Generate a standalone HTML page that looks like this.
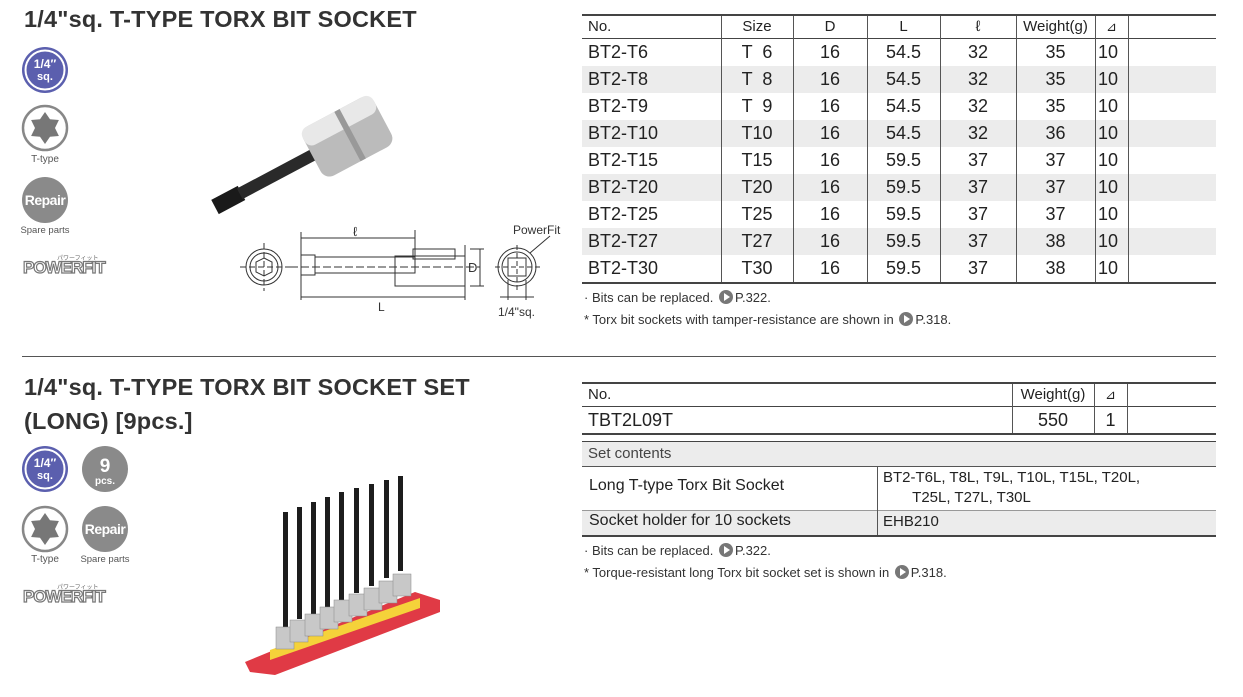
<!DOCTYPE html>
<html><head><meta charset="utf-8"><style>
body{margin:0;width:1243px;height:697px;background:#fff;position:relative;overflow:hidden;font-family:"Liberation Sans",sans-serif;color:#222}
.a{position:absolute;white-space:nowrap}
.t{font-size:23.5px;font-weight:bold;color:#333;letter-spacing:0.2px}
.c{position:absolute;text-align:center;font-size:18px;line-height:27px}
.h{position:absolute;text-align:center;font-size:15px;line-height:24px}
.note{font-size:13px;color:#333}
.arr{display:inline-block;width:14px;height:14px;border-radius:7px;background:#777;vertical-align:-2px;position:relative;margin:0 2px}
.arr:after{content:"";position:absolute;left:5px;top:3px;border-left:6px solid #fff;border-top:4px solid transparent;border-bottom:4px solid transparent}
</style></head><body>
<div class="a t" style="left:24px;top:6px">1/4"sq. T-TYPE TORX BIT SOCKET</div>
<div class="a t" style="left:24px;top:374px">1/4"sq. T-TYPE TORX BIT SOCKET SET</div>
<div class="a t" style="left:24px;top:408px">(LONG) [9pcs.]</div>
<div class="a" style="left:22px;top:356px;width:1194px;height:1px;background:#555"></div>

<svg class="a" style="left:0;top:0" width="580" height="697">
<defs>
<g id="sq"><circle r="23" fill="#5b5fae"/><circle r="19.5" fill="none" stroke="#fff" stroke-width="2"/><text x="0" y="-2" font-size="12" font-weight="bold" fill="#fff" text-anchor="middle" font-family="Liberation Sans">1/4″</text><text x="0" y="10" font-size="11" font-weight="bold" fill="#fff" text-anchor="middle" font-family="Liberation Sans">sq.</text></g>
<g id="tt"><circle r="22" fill="#fff" stroke="#888" stroke-width="2.5"/><polygon points="0,-16 5,-8.7 13.9,-8 10,0 13.9,8 5,8.7 0,16 -5,8.7 -13.9,8 -10,0 -13.9,-8 -5,-8.7" fill="#777"/></g>
<g id="rp"><circle r="23" fill="#8a8a8a"/><text x="0" y="5" font-size="14" font-weight="bold" fill="#fff" text-anchor="middle" font-family="Liberation Sans" letter-spacing="-0.5">Repair</text></g>
<g id="pf"><text x="0" y="0" font-size="17" font-weight="bold" fill="#fff" stroke="#777" stroke-width="1.2" font-family="Liberation Sans" letter-spacing="-1">POWERFIT</text><text x="34" y="-13" font-size="6" fill="#666" font-family="Liberation Sans">パワーフィット</text></g>
</defs>
<use href="#sq" x="45" y="70"/>
<use href="#tt" x="45" y="128"/>
<text x="45" y="162" font-size="10" fill="#555" text-anchor="middle">T-type</text>
<use href="#rp" x="45" y="200"/>
<text x="45" y="233" font-size="9.5" fill="#555" text-anchor="middle">Spare parts</text>
<use href="#pf" x="23" y="273"/>

<use href="#sq" x="45" y="469"/>
<circle cx="105" cy="469" r="23" fill="#8a8a8a"/><text x="105" y="472" font-size="19" font-weight="bold" fill="#fff" text-anchor="middle">9</text><text x="105" y="484" font-size="10" font-weight="bold" fill="#fff" text-anchor="middle">pcs.</text>
<use href="#tt" x="45" y="529"/>
<text x="45" y="562" font-size="10" fill="#555" text-anchor="middle">T-type</text>
<use href="#rp" x="105" y="529"/>
<text x="105" y="562" font-size="9.5" fill="#555" text-anchor="middle">Spare parts</text>
<use href="#pf" x="23" y="602"/>

<!-- socket photo -->
<g transform="translate(215,207) rotate(-28)">
<rect x="0" y="-8" width="30" height="16" fill="#1a1a1a"/>
<rect x="28" y="-6" width="90" height="12" fill="#2a2a2a"/>
<rect x="110" y="-28" width="80" height="56" rx="10" fill="#bbb"/>
<rect x="110" y="-28" width="80" height="20" rx="8" fill="#e8e8e8"/>
<rect x="150" y="-28" width="6" height="56" fill="#999"/>
</g>

<!-- drawing -->
<g stroke="#333" fill="none" stroke-width="1">
<circle cx="264" cy="267" r="18"/><circle cx="264" cy="267" r="14"/><polygon points="264,258 272,262 272,272 264,276 256,272 256,262"/>
<line x1="240" y1="267" x2="290" y2="267" stroke-dasharray="6,3"/><line x1="264" y1="243" x2="264" y2="291" stroke-dasharray="6,3"/>
<line x1="290" y1="267" x2="480" y2="267" stroke-dasharray="8,3"/>
<rect x="301" y="255" width="14" height="20"/><rect x="315" y="257" width="100" height="16"/>
<rect x="413" y="249" width="42" height="10"/><rect x="395" y="256" width="70" height="30"/>
<line x1="301" y1="232" x2="301" y2="300"/><line x1="415" y1="230" x2="415" y2="258"/><line x1="465" y1="245" x2="465" y2="300"/>
<line x1="301" y1="238" x2="415" y2="238"/><line x1="301" y1="297" x2="465" y2="297"/>
<line x1="470" y1="249" x2="484" y2="249"/><line x1="470" y1="286" x2="484" y2="286"/><line x1="480" y1="249" x2="480" y2="286"/>
<circle cx="517" cy="267" r="19"/><circle cx="517" cy="267" r="15"/><rect x="508" y="258" width="18" height="18"/>
<line x1="495" y1="267" x2="540" y2="267" stroke-dasharray="5,3"/><line x1="517" y1="245" x2="517" y2="290" stroke-dasharray="5,3"/>
<line x1="508" y1="280" x2="508" y2="300"/><line x1="526" y1="280" x2="526" y2="300"/><line x1="500" y1="297" x2="534" y2="297"/>
<line x1="530" y1="253" x2="550" y2="236"/>
</g>
<text x="353" y="236" font-size="13" fill="#333">ℓ</text>
<text x="378" y="311" font-size="12" fill="#333">L</text>
<text x="468" y="272" font-size="13" fill="#333" font-family="Liberation Sans">D</text>
<text x="498" y="316" font-size="12" fill="#333">1/4"sq.</text>
<text x="513" y="234" font-size="12" fill="#333">PowerFit</text>

<!-- set photo -->
<polygon points="245,662 250,672 275,675 440,612 440,600 415,592" fill="#e03a45"/>
<polygon points="270,650 270,660 420,608 420,598" fill="#f5d23a"/>
<g fill="#1d1d1d">
<rect x="283" y="512" width="5" height="115"/><rect x="297" y="507" width="5" height="112"/><rect x="311" y="502" width="5" height="112"/><rect x="325" y="497" width="5" height="110"/><rect x="339" y="492" width="5" height="108"/><rect x="354" y="488" width="5" height="105"/><rect x="369" y="484" width="5" height="102"/><rect x="384" y="480" width="5" height="98"/><rect x="398" y="476" width="5" height="95"/>
</g>
<g fill="#c8c8c8" stroke="#888" stroke-width="0.5">
<rect x="276" y="627" width="18" height="22"/><rect x="290" y="620" width="18" height="22"/><rect x="305" y="614" width="18" height="22"/><rect x="320" y="607" width="18" height="22"/><rect x="334" y="600" width="18" height="22"/><rect x="349" y="594" width="18" height="22"/><rect x="364" y="588" width="18" height="22"/><rect x="379" y="581" width="18" height="22"/><rect x="393" y="574" width="18" height="22"/>
</g>
</svg>

<!-- Table 1 -->
<div class="a" style="left:582px;top:14px;width:634px;height:270px">
<div class="a" style="left:0;top:0;width:634px;height:2px;background:#444"></div>
<div class="a" style="left:0;top:24px;width:634px;height:1px;background:#444"></div>
<div class="a" style="left:0;top:52px;width:634px;height:27px;background:#ececec"></div>
<div class="a" style="left:0;top:106px;width:634px;height:27px;background:#ececec"></div>
<div class="a" style="left:0;top:160px;width:634px;height:27px;background:#ececec"></div>
<div class="a" style="left:0;top:214px;width:634px;height:27px;background:#ececec"></div>
<div class="a" style="left:0;top:268px;width:634px;height:1.5px;background:#444"></div>
<div class="a" style="left:139px;top:2px;width:1px;height:266px;background:#555"></div>
<div class="a" style="left:211px;top:2px;width:1px;height:266px;background:#555"></div>
<div class="a" style="left:285px;top:2px;width:1px;height:266px;background:#555"></div>
<div class="a" style="left:358px;top:2px;width:1px;height:266px;background:#555"></div>
<div class="a" style="left:434px;top:2px;width:1px;height:266px;background:#555"></div>
<div class="a" style="left:513px;top:2px;width:1px;height:266px;background:#555"></div>
<div class="a" style="left:546px;top:2px;width:1px;height:266px;background:#555"></div>
<div class="h" style="left:6px;top:1px;text-align:left">No.</div>
<div class="h" style="left:139px;top:1px;width:72px">Size</div>
<div class="h" style="left:211px;top:1px;width:74px">D</div>
<div class="h" style="left:285px;top:1px;width:73px">L</div>
<div class="h" style="left:358px;top:1px;width:76px">ℓ</div>
<div class="h" style="left:434px;top:1px;width:79px">Weight(g)</div>
<div class="h" style="left:513px;top:1px;width:33px;font-size:13px">⊿</div>
</div>
<div class="a" style="left:582px;top:39px">
<div class="c" style="left:6px;top:0;text-align:left">BT2-T6<br>BT2-T8<br>BT2-T9<br>BT2-T10<br>BT2-T15<br>BT2-T20<br>BT2-T25<br>BT2-T27<br>BT2-T30</div>
<div class="c" style="left:139px;top:0;width:72px;white-space:pre">T  6
T  8
T  9
T10
T15
T20
T25
T27
T30</div>
<div class="c" style="left:211px;top:0;width:74px">16<br>16<br>16<br>16<br>16<br>16<br>16<br>16<br>16</div>
<div class="c" style="left:285px;top:0;width:73px">54.5<br>54.5<br>54.5<br>54.5<br>59.5<br>59.5<br>59.5<br>59.5<br>59.5</div>
<div class="c" style="left:358px;top:0;width:76px">32<br>32<br>32<br>32<br>37<br>37<br>37<br>37<br>37</div>
<div class="c" style="left:434px;top:0;width:79px">35<br>35<br>35<br>36<br>37<br>37<br>37<br>38<br>38</div>
<div class="c" style="left:516px;top:0;text-align:left">10<br>10<br>10<br>10<br>10<br>10<br>10<br>10<br>10</div>
</div>
<div class="a note" style="left:584px;top:290px">· Bits can be replaced. <span class="arr"></span>P.322.</div>
<div class="a note" style="left:584px;top:312px">* Torx bit sockets with tamper-resistance are shown in <span class="arr"></span>P.318.</div>

<!-- Table 2 -->
<div class="a" style="left:582px;top:382px;width:634px;height:160px">
<div class="a" style="left:0;top:0;width:634px;height:2px;background:#444"></div>
<div class="a" style="left:0;top:24px;width:634px;height:1px;background:#444"></div>
<div class="a" style="left:0;top:51px;width:634px;height:1.5px;background:#444"></div>
<div class="a" style="left:430px;top:2px;width:1px;height:49px;background:#555"></div>
<div class="a" style="left:512px;top:2px;width:1px;height:49px;background:#555"></div>
<div class="a" style="left:545px;top:2px;width:1px;height:49px;background:#555"></div>
<div class="h" style="left:6px;top:1px">No.</div>
<div class="h" style="left:430px;top:1px;width:82px">Weight(g)</div>
<div class="h" style="left:512px;top:1px;width:33px;font-size:13px">⊿</div>
<div class="c" style="left:6px;top:25px">TBT2L09T</div>
<div class="c" style="left:430px;top:25px;width:82px">550</div>
<div class="c" style="left:512px;top:25px;width:33px">1</div>
<div class="a" style="left:0;top:59px;width:634px;height:1.5px;background:#444"></div>
<div class="a" style="left:0;top:60px;width:634px;height:24px;background:#ececec"></div>
<div class="a" style="left:0;top:84px;width:634px;height:1px;background:#555"></div>
<div class="a" style="left:0;top:128px;width:634px;height:25px;background:#ececec"></div>
<div class="a" style="left:0;top:128px;width:634px;height:1px;background:#999"></div>
<div class="a" style="left:0;top:153px;width:634px;height:1.5px;background:#444"></div>
<div class="a" style="left:295px;top:84px;width:1px;height:69px;background:#555"></div>
<div class="h" style="left:6px;top:60px;color:#444">Set contents</div>
<div class="a" style="left:7px;top:95px;font-size:16px">Long T-type Torx Bit Socket</div>
<div class="a" style="left:301px;top:86px;font-size:15px;line-height:20px">BT2-T6L, T8L, T9L, T10L, T15L, T20L,<br>&nbsp;&nbsp;&nbsp;&nbsp;&nbsp;&nbsp;&nbsp;T25L, T27L, T30L</div>
<div class="a" style="left:7px;top:130px;font-size:16px">Socket holder for 10 sockets</div>
<div class="a" style="left:301px;top:131px;font-size:15px">EHB210</div>
</div>
<div class="a note" style="left:584px;top:543px">· Bits can be replaced. <span class="arr"></span>P.322.</div>
<div class="a note" style="left:584px;top:565px">* Torque-resistant long Torx bit socket set is shown in <span class="arr"></span>P.318.</div>
</body></html>
